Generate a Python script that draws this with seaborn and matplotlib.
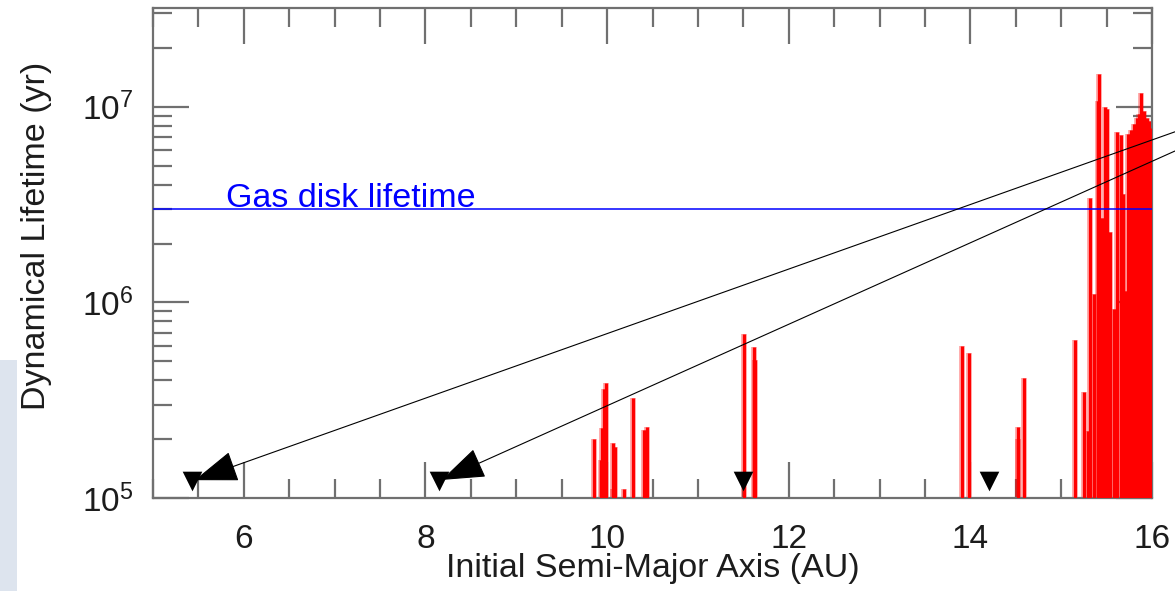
import matplotlib
matplotlib.use("Agg")
import matplotlib.pyplot as plt
import seaborn as sns
import pandas as pd
from matplotlib.ticker import MultipleLocator, LogLocator, LogFormatterSciNotation, NullFormatter
from matplotlib.patches import Rectangle

# Initial semi-major axis (AU) of each unstable test particle and its dynamical lifetime (yr)
semi_major_axis = [
    9.86, 9.93, 9.94, 9.97, 9.99, 10.06, 10.07, 10.09, 10.19, 10.28, 10.41, 10.44,
    11.51, 11.62, 11.63,
    13.91, 13.98, 14.52, 14.53, 14.59,
    15.15, 15.25, 15.29, 15.32, 15.36, 15.40, 15.42, 15.45, 15.48, 15.51,
    15.54, 15.58, 15.62, 15.66, 15.68, 15.71, 15.74, 15.77, 15.80, 15.83,
    15.86, 15.88, 15.91, 15.94, 15.97, 15.99,
]
lifetime = [
    2.0e5, 1.56e5, 2.27e5, 3.6e5, 3.86e5, 1.9e5, 1.11e5, 1.82e5, 1.11e5, 3.23e5, 2.22e5, 2.3e5,
    6.9e5, 5.9e5, 5.06e5,
    6.0e5, 5.5e5, 2.0e5, 2.3e5, 4.1e5,
    6.4e5, 3.5e5, 2.2e5, 3.4e6, 1.1e6, 1.07e7, 1.47e7, 2.7e6, 1.0e7, 9.8e6,
    2.3e6, 9.3e5, 7.4e6, 7.2e6, 3.6e6, 1.15e6, 7.3e6, 7.6e6, 8.2e6, 8.8e6,
    9.2e6, 1.17e7, 9.5e6, 8.8e6, 8.5e6, 7.8e6,
]

# Stable (surviving) particles, plotted as triangles on the lower edge
stable_axis = [5.43, 8.15, 11.5, 14.2]
stable_marker_level = [1.22e5, 1.22e5, 1.22e5, 1.22e5]

# Survivors pointed to by arrows (indices into the stable list) and arrow starts
arrow_targets = [0, 1]
arrow_origins = [(1.0, 0.777), (1.0, 0.7445)]   # figure fraction

gas_disk_lifetime = 3.0e6
gas_label = "Gas disk lifetime"

x_limits = (5.0, 16.0)
y_limits = (1.0e5, 3.2e7)
x_major_ticks = [6, 8, 10, 12, 14, 16]

sns.set_theme(style="ticks")
plt.rcParams["font.family"] = ["Liberation Sans", "DejaVu Sans"]
plt.rcParams["mathtext.fontset"] = "custom"
plt.rcParams["mathtext.rm"] = "Liberation Sans"
plt.rcParams["mathtext.it"] = "Liberation Sans:italic"

text_color = "#1c1c1c"
axis_gray = "#707070"

fig = plt.figure(figsize=(11.75, 5.91), dpi=100)
fig.patch.set_facecolor("white")
ax = fig.add_axes([153 / 1175, 1 - 498 / 591, 999 / 1175, 490 / 591])
ax.set_facecolor("white")

ax.set_yscale("log")
ax.set_xlim(*x_limits)
ax.set_ylim(*y_limits)

# Lifetime of each particle drawn as a vertical bar from the floor of the plot
df = pd.DataFrame({"a": semi_major_axis, "t": lifetime})
floor = y_limits[0]
ax.vlines(df["a"], floor, df["t"], color="#ff0000", lw=4.0, alpha=0.4, zorder=2)
ax.vlines(df["a"], floor, df["t"], color="#ff0000", lw=2.2, zorder=3)

# Gas disk lifetime reference line
ax.axhline(gas_disk_lifetime, color="#0000ff", lw=1.1, zorder=4)
ax.text(5.80, gas_disk_lifetime * 1.02, gas_label, color="#0000ff",
        fontsize=24.5, va="baseline", ha="left", zorder=5)

# Surviving particles
sdf = pd.DataFrame({"a": stable_axis, "t": stable_marker_level})
sns.scatterplot(data=sdf, x="a", y="t", marker="v", s=200, color="black",
                linewidth=0, ax=ax, zorder=6, legend=False)

# Arrows from outside the frame to two of the survivors
for idx, origin in zip(arrow_targets, arrow_origins):
    ax.annotate("", xy=(stable_axis[idx], stable_marker_level[idx]),
                xycoords="data", xytext=origin, textcoords="figure fraction",
                arrowprops=dict(arrowstyle="-|>,head_length=2.8,head_width=1.0",
                                mutation_scale=10, color="black", lw=0.8,
                                shrinkA=0, shrinkB=2),
                annotation_clip=False, zorder=7)

# Axes styling: ticks on all four sides, pointing inwards
ax.xaxis.set_major_locator(MultipleLocator(2))
ax.xaxis.set_minor_locator(MultipleLocator(0.5))
ax.yaxis.set_major_locator(LogLocator(base=10, numticks=10))
ax.yaxis.set_minor_locator(LogLocator(base=10, subs=range(2, 10), numticks=20))
ax.yaxis.set_major_formatter(LogFormatterSciNotation())
ax.yaxis.set_minor_formatter(NullFormatter())
ax.set_xticks(x_major_ticks)
ax.set_xticklabels([str(v) for v in x_major_ticks])

ax.tick_params(which="both", direction="in", top=True, right=True,
               color=axis_gray, width=1.6, labelcolor=text_color, labelsize=24)
ax.tick_params(which="major", length=26)
ax.tick_params(which="minor", length=13.5)
ax.tick_params(axis="x", which="major", pad=19)
ax.tick_params(axis="y", which="major", pad=14)

for side in ["left", "right", "top", "bottom"]:
    ax.spines[side].set_color(axis_gray)
    ax.spines[side].set_linewidth(1.6)
    ax.spines[side].set_visible(True)

ax.set_xlabel("Initial Semi-Major Axis (AU)", fontsize=24.5, color=text_color)
ax.set_ylabel("Dynamical Lifetime (yr)", fontsize=24.5, color=text_color)
ax.xaxis.set_label_coords(0.5, -0.112)
ax.yaxis.set_label_coords(-0.101, 0.535)

# Pale strip along the lower left edge of the figure
fig.patches.append(Rectangle((0, 0), 17 / 1175, (591 - 360) / 591,
                             transform=fig.transFigure, facecolor="#dde4ee",
                             edgecolor="none", zorder=0))

fig.savefig("out.png", dpi=100, facecolor="white")
